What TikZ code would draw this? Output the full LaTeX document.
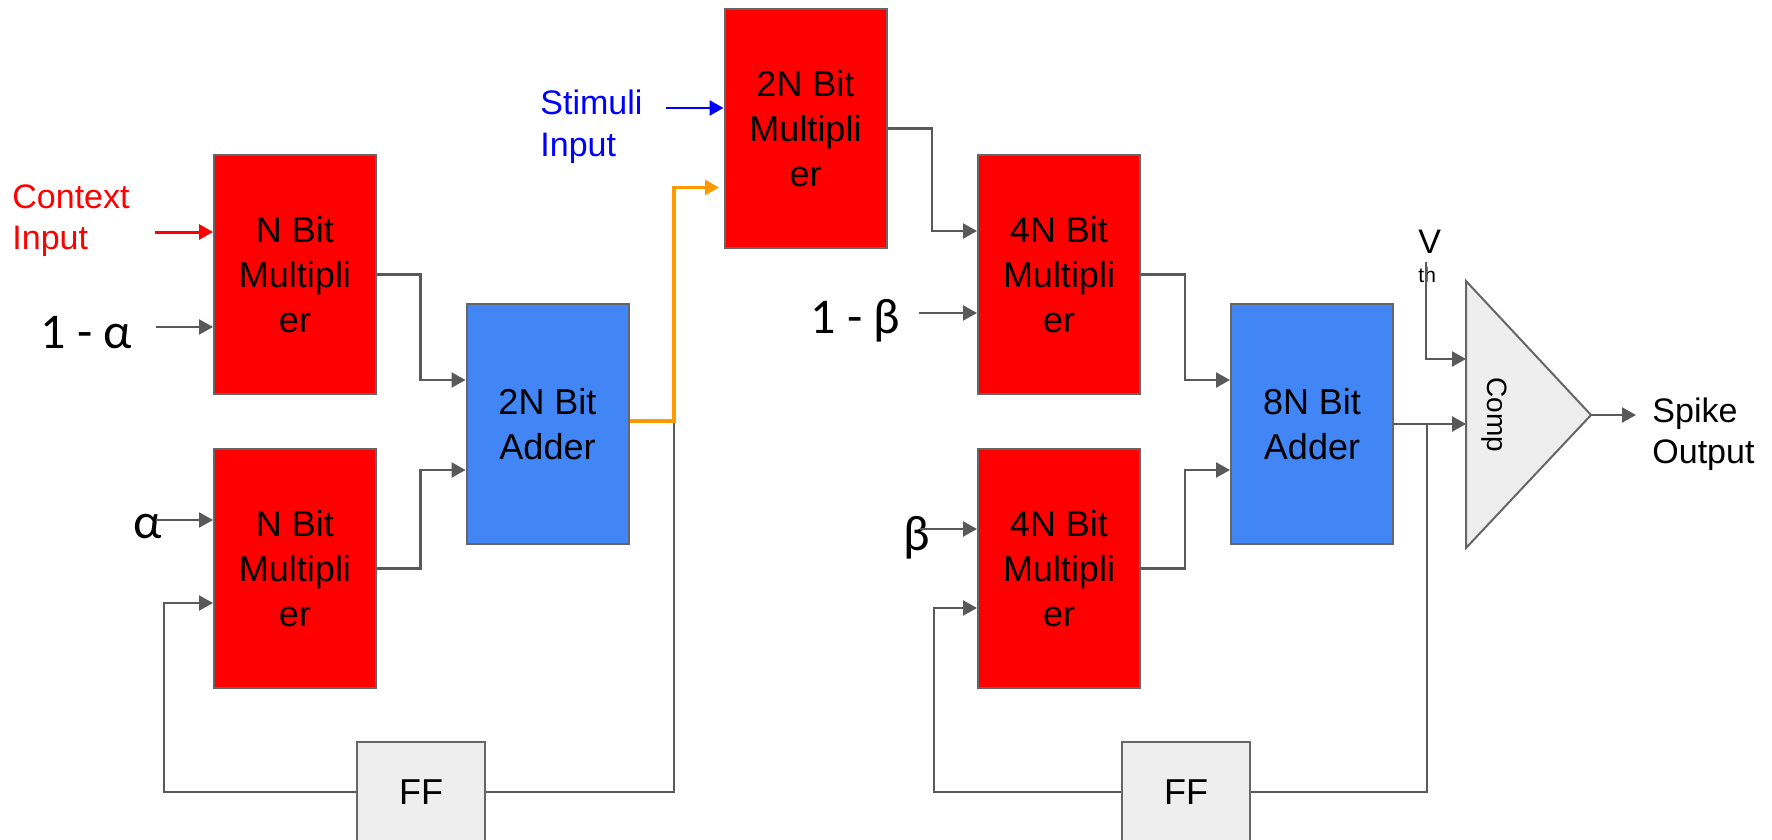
\documentclass[tikz,border=0pt]{standalone}
\usepackage{fontspec}
\setmainfont{Liberation Sans}
\newfontfamily\calfont{Carlito}
\usetikzlibrary{arrows.meta,calc}
\definecolor{linegray}{HTML}{595959}
\definecolor{bordergray}{HTML}{666666}
\definecolor{boxred}{HTML}{FF0000}
\definecolor{addblue}{HTML}{4285F4}
\definecolor{ffgray}{HTML}{EEEEEE}
\definecolor{wireorange}{HTML}{FF9900}
\definecolor{stimblue}{HTML}{0000FF}
\begin{document}
\begin{tikzpicture}[x=0.5pt,y=-0.5pt,
  mult/.style={draw=bordergray, line width=1pt, fill=boxred, minimum width=81pt, minimum height=119.5pt, inner sep=0pt, align=center, font=\fontsize{18}{22.5}\selectfont},
  adder/.style={mult, fill=addblue, minimum height=120pt},
  ffbox/.style={draw=bordergray, line width=1pt, fill=ffgray, minimum width=64pt, minimum height=50pt, inner sep=0pt, font=\fontsize{18}{22.5}\selectfont},
  wire/.style={draw=linegray, line width=1.2pt},
  arr/.style={wire, -{Triangle[length=7pt,width=7.5pt]}},
  lbl/.style={inner sep=0pt, anchor=base west, font=\fontsize{17}{20.5}\selectfont},
  greek/.style={inner sep=0pt, anchor=base west, font=\calfont\fontsize{25}{30}\selectfont},
]
\clip (0,0) rectangle (1772,840);
\fill[white] (0,0) rectangle (1772,840);

% blocks
\node[mult] (m1) at (295,274.5) {N Bit\\Multipli\\er};
\node[mult] (m2) at (295,568.5) {N Bit\\Multipli\\er};
\node[adder] (a1) at (547.5,424) {2N Bit\\Adder};
\node[mult] (m3) at (805.5,128.5) {2N Bit\\Multipli\\er};
\node[mult] (m4) at (1059,274.5) {4N Bit\\Multipli\\er};
\node[mult] (m5) at (1059,568.5) {4N Bit\\Multipli\\er};
\node[adder] (a2) at (1312,424) {8N Bit\\Adder};
\node[ffbox] (ff1) at (421,792) {FF};
\node[ffbox] (ff2) at (1186,792) {FF};

% comparator
\coordinate (ct) at (1466,281);
\coordinate (cb) at (1466,548);
\coordinate (cp) at (1591,415);
\filldraw[fill=ffgray, draw=bordergray, line width=1pt] (ct) -- (cp) -- (cb) -- cycle;
\node[rotate=-90, inner sep=0pt, font=\fontsize{14}{16}\selectfont] (comp) at (1494,415) {Comp};

% labels
\node[lbl, text=boxred] (ctx1) at (12,208) {Context};
\node[lbl, text=boxred] (ctx2) at (12,249) {Input};
\node[lbl, text=stimblue] (st1) at (540,115) {Stimuli};
\node[lbl, text=stimblue] (st2) at (540,156) {Input};
\node[lbl] (sp1) at (1652,422) {Spike};
\node[lbl] (sp2) at (1652,463) {Output};
\node[lbl] (vth) at (1418,253) {V};
\node[inner sep=0pt, anchor=base west, font=\fontsize{10.5}{12}\selectfont] (vthsub) at (1418,282) {th};
\node[greek] (oma) at (40,348) {1 - α};
\node[greek] (alf) at (133,538) {α};
\node[greek] (omb) at (810,333) {1 - β};
\node[greek] (bet) at (903,550) {β};

% input arrows
\coordinate (cin) at (155,232);
\draw[draw=boxred, line width=1.5pt, -{Triangle[length=7pt,width=7.5pt]}] (cin) -- (cin -| m1.west);
\coordinate (oin) at (156,327);
\draw[arr] (oin) -- (oin -| m1.west);
\coordinate (ain) at (156,520);
\draw[arr] (ain) -- (ain -| m2.west);
\coordinate (sin) at (666,108);
\draw[draw=stimblue, line width=1.2pt, -{Triangle[length=7pt,width=7.5pt]}] (sin) -- (sin -| m3.west);
\coordinate (obin) at (919,313);
\draw[arr] (obin) -- (obin -| m4.west);
\coordinate (bin) at (920,529);
\draw[arr] (bin) -- (bin -| m5.west);

% left stage
\coordinate (j1) at (420.5,380);
\draw[arr] (m1.east) -| (j1) -- (j1 -| a1.west);
\coordinate (j2) at (420.5,470);
\draw[arr] (m2.east) -| (j2) -- (j2 -| a1.west);
\coordinate (fb1) at (164,603);
\draw[arr] (ff1.west) -| (fb1) -- (fb1 -| m2.west);
\coordinate (oj) at (674,187.5);
\coordinate (oend) at (719,187.5);
\coordinate (ojoin) at (674,421);
\draw[wire] (ff1.east) -| (ojoin);
\draw[draw=wireorange, line width=1.6pt, -{Triangle[length=7pt,width=7.5pt]}] (a1.east |- ojoin) -- (ojoin) -- (oj) -- (oend);

% right stage
\coordinate (j3) at (932,231);
\draw[arr] (m3.east) -| (j3) -- (j3 -| m4.west);
\coordinate (j4) at (1185,380);
\draw[arr] (m4.east) -| (j4) -- (j4 -| a2.west);
\coordinate (j5) at (1185,470);
\draw[arr] (m5.east) -| (j5) -- (j5 -| a2.west);
\coordinate (fb2) at (934,608);
\draw[arr] (ff2.west) -| (fb2) -- (fb2 -| m5.west);
\coordinate (cin2) at (1466,424);
\draw[arr] (a2.east) -- (cin2);
\coordinate (rjoin) at (1427,424);
\draw[wire] (ff2.east) -| (rjoin);
\coordinate (vt) at (1426,262);
\coordinate (vb) at (1426,359);
\draw[arr] (vt) -- (vb) -- (vb -| ct);
\coordinate (outend) at (1636,415);
\draw[arr] (cp) -- (outend);
\end{tikzpicture}
\end{document}
